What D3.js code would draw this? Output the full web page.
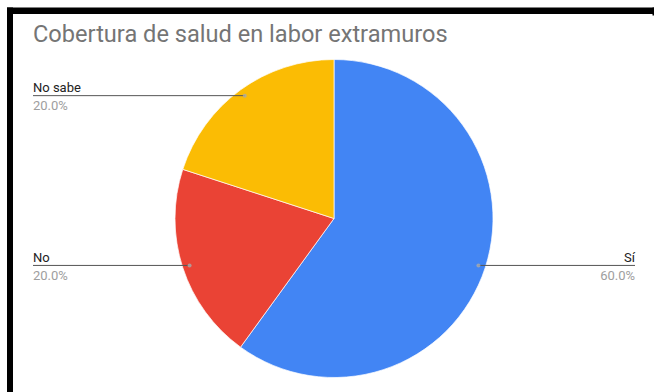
<!DOCTYPE html>
<html>
<head>
<meta charset="utf-8">
<script src="https://cdn.jsdelivr.net/npm/d3@7"></script>
<style>
  html, body { margin: 0; padding: 0; background: #fff; }
  svg { display: block; }
  text { font-family: Roboto, Arial, sans-serif; }
</style>
</head>
<body>
<svg id="chart" width="654" height="392"></svg>
<script>
// Survey answers and their shares (percent)
const categories = ["Sí", "No", "No sabe"];
const values = [60, 20, 20];
const colors = ["#4285f4", "#ea4335", "#fbbc04"];
const title = "Cobertura de salud en labor extramuros";

const W = 654, H = 392;
const svg = d3.select("#chart");

// Frame: black bars along the top and left edges
svg.append("rect").attr("x", 7).attr("y", 7.5).attr("width", W - 7).attr("height", 6.5).attr("fill", "#000");
svg.append("rect").attr("x", 7).attr("y", 7.5).attr("width", 6).attr("height", H - 7.5).attr("fill", "#000");
svg.append("rect").attr("x", 652.5).attr("y", 7.5).attr("width", 1.5).attr("height", 8).attr("fill", "#000");

svg.append("text")
  .attr("x", 33).attr("y", 42)
  .attr("font-size", 23.6)
  .attr("fill", "#757575")
  .text(title);

const cx = 334, cy = 218.5, r = 159;
const data = categories.map((c, i) => ({ cat: c, value: values[i], color: colors[i] }));
const total = d3.sum(values);

const pie = d3.pie().value(d => d.value).sort(null);
const arcs = pie(data);
const arc = d3.arc().innerRadius(0).outerRadius(r);

const g = svg.append("g").attr("transform", `translate(${cx},${cy})`);
g.selectAll("path.slice")
  .data(arcs)
  .join("path")
  .attr("class", "slice")
  .attr("d", arc)
  .attr("fill", d => d.data.color)
  .attr("stroke", "#fff")
  .attr("stroke-width", 0.7);

// Leader lines and labels
const pointArc = d3.arc().innerRadius(r * 0.955).outerRadius(r * 0.955);
const fmt = d3.format(".1f");
const leftX = 33, rightX = 635;

arcs.forEach(a => {
  const [px, py] = pointArc.centroid(a);
  const x = cx + px, y = cy + py;
  const mid = (a.startAngle + a.endAngle) / 2;
  const onRight = mid < Math.PI;
  const endX = onRight ? rightX : leftX;
  const anchor = onRight ? "end" : "start";

  svg.append("line")
    .attr("x1", x).attr("y1", y)
    .attr("x2", endX).attr("y2", y)
    .attr("stroke", "#555")
    .attr("stroke-width", 1);
  svg.append("circle")
    .attr("cx", x).attr("cy", y).attr("r", 2)
    .attr("fill", "#aaa").attr("opacity", 0.8);
  svg.append("text")
    .attr("x", endX).attr("y", y - 3.5)
    .attr("text-anchor", anchor)
    .attr("font-size", 13)
    .attr("fill", "#222")
    .text(a.data.cat);
  svg.append("text")
    .attr("x", endX).attr("y", y + 14.5)
    .attr("text-anchor", anchor)
    .attr("font-size", 13)
    .attr("fill", "#9e9e9e")
    .text(fmt(a.data.value / total * 100) + "%");
});
</script>
</body>
</html>
